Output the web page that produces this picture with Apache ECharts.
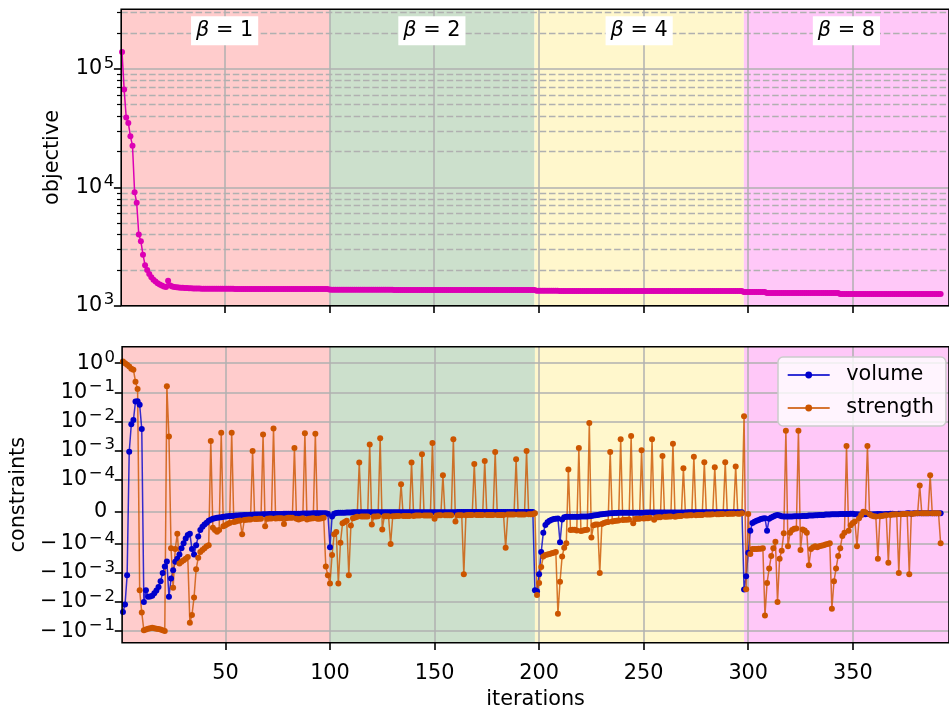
<!DOCTYPE html>
<html>
<head>
<meta charset="utf-8">
<title>objective / constraints</title>
<script src="https://cdn.jsdelivr.net/npm/echarts@6/dist/echarts.min.js"></script>
<style>
  html, body { margin: 0; padding: 0; background: #fff; }
  #chart { width: 949px; height: 713px; }
</style>
</head>
<body>
<div id="chart"></div>
<script>
// values per iteration (iteration = index + 1)
const objective = [
  139000,67000,39000,35000,27000,22500,9100,7400,4000,3500,
  2700,2200,2000,1850,1740,1660,1600,1550,1510,1480,
  1455,1440,1625,1480,1455,1440,1430,1425,1420,1415,
  1410,1408,1405,1402,1400,1398,1396,1395,1394,1393,
  1392,1392,1391,1391,1390,1390,1390,1389,1389,1389,
  1388,1388,1388,1388,1387,1387,1387,1387,1386,1386,
  1386,1386,1386,1385,1385,1385,1385,1385,1385,1384,
  1384,1384,1384,1384,1384,1384,1384,1384,1384,1384,
  1384,1384,1383,1383,1383,1383,1383,1383,1383,1383,
  1383,1383,1382,1382,1382,1382,1382,1382,1382,1370,
  1362,1362,1362,1362,1362,1362,1362,1362,1362,1362,
  1362,1362,1362,1362,1362,1362,1362,1362,1362,1362,
  1361,1361,1361,1361,1361,1361,1361,1361,1361,1361,
  1360,1360,1360,1360,1360,1360,1360,1360,1360,1360,
  1360,1360,1360,1360,1360,1360,1360,1360,1360,1360,
  1359,1359,1359,1359,1359,1359,1359,1359,1359,1359,
  1359,1359,1359,1359,1359,1359,1359,1359,1359,1359,
  1358,1358,1358,1358,1358,1358,1358,1358,1358,1358,
  1358,1358,1358,1358,1358,1358,1358,1358,1358,1358,
  1357,1357,1357,1357,1357,1357,1357,1357,1338,1338,
  1338,1338,1338,1338,1338,1338,1338,1338,1338,1332,
  1331,1331,1331,1331,1331,1331,1331,1331,1331,1331,
  1331,1331,1331,1331,1331,1331,1331,1331,1331,1331,
  1330,1330,1330,1330,1330,1330,1330,1330,1330,1330,
  1330,1330,1330,1330,1330,1330,1330,1330,1330,1330,
  1330,1330,1330,1330,1330,1330,1330,1330,1330,1330,
  1329,1329,1329,1329,1329,1329,1329,1329,1329,1329,
  1329,1329,1329,1329,1329,1329,1329,1329,1329,1329,
  1329,1329,1329,1329,1329,1329,1329,1329,1329,1329,
  1328,1328,1328,1328,1328,1328,1328,1306,1305,1305,
  1305,1305,1305,1305,1305,1305,1305,1305,1282,1281,
  1281,1281,1281,1281,1281,1281,1281,1281,1281,1281,
  1280,1280,1280,1280,1280,1280,1280,1280,1280,1280,
  1280,1280,1280,1280,1280,1280,1280,1280,1280,1280,
  1279,1279,1279,1258,1258,1258,1258,1258,1258,1258,
  1258,1258,1258,1258,1258,1258,1258,1258,1258,1258,
  1257,1257,1257,1257,1257,1257,1257,1257,1257,1257,
  1257,1257,1257,1257,1257,1257,1257,1257,1257,1257,
  1256,1256,1256,1256,1256,1256,1256,1256,1256,1256,
  1256,1256
];

const volume = [
  -2.2e-2,-1.2e-2,-1.2e-3,9e-4,7.9e-3,1.1e-2,4.8e-2,4.9e-2,3.7e-2,5.4e-3,
  -1.0e-2,-3.9e-3,-6.6e-3,-6.4e-3,-6e-3,-5e-3,-4e-3,-3e-3,-1.9e-3,-1e-3,
  -6e-4,-4e-4,-6.6e-3,-1.55e-3,-8.1e-4,-4.1e-4,-3.2e-4,-2.3e-4,-1.4e-4,-9.8e-5,
  -8.3e-5,-7.2e-5,-6.8e-5,-1.5e-4,-2.3e-4,-1.1e-4,-7.7e-5,-5.7e-5,-4.7e-5,-4e-5,
  -3.4e-5,-2.8e-5,-2.5e-5,-2.2e-5,-2e-5,-1.9e-5,-1.8e-5,-1.7e-5,-1.6e-5,-1.5e-5,
  -1.4e-5,-1.35e-5,-1.3e-5,-1.25e-5,-1.2e-5,-1.15e-5,-1.1e-5,-1.1e-5,-1.05e-5,-1e-5,
  -1e-5,-9.5e-6,-9.5e-6,-9e-6,-9e-6,-8.5e-6,-8.5e-6,-8e-6,-8e-6,-8e-6,
  -7.5e-6,-7.5e-6,-7.5e-6,-7e-6,-7e-6,-7e-6,-7e-6,-6.5e-6,-6.5e-6,-6.5e-6,
  -6.5e-6,-6e-6,-6e-6,-6e-6,-6e-6,-6e-6,-5.5e-6,-5.5e-6,-5.5e-6,-5.5e-6,
  -5.5e-6,-5e-6,-5e-6,-5e-6,-5e-6,-5e-6,-5e-6,-5e-6,-6e-6,-1.3e-4,
  -1.5e-5,-6e-6,-4e-6,-3.5e-6,-3e-6,-3e-6,-3e-6,-2.5e-6,-2.5e-6,-2.5e-6,
  -2e-6,-2e-6,-2e-6,-2e-6,-2e-6,-2e-6,-2e-6,-2e-6,-2e-6,-2e-6,
  -2e-6,-2e-6,-2e-6,-2e-6,-2e-6,-2e-6,-2e-6,-2e-6,-2e-6,-2e-6,
  -1.5e-6,-1.5e-6,-1.5e-6,-1.5e-6,-1.5e-6,-1.5e-6,-1.5e-6,-1.5e-6,-1.5e-6,-1.5e-6,
  -1.5e-6,-1.5e-6,-1.5e-6,-1.5e-6,-1.5e-6,-1.5e-6,-1.5e-6,-1.5e-6,-1.5e-6,-1.5e-6,
  -1.5e-6,-1.5e-6,-1.5e-6,-1.5e-6,-1.5e-6,-1.5e-6,-1.5e-6,-1.5e-6,-1.5e-6,-1.5e-6,
  -1e-6,-1e-6,-1e-6,-1e-6,-1e-6,-1e-6,-1e-6,-1e-6,-1e-6,-1e-6,
  -1e-6,-1e-6,-1e-6,-1e-6,-1e-6,-1e-6,-1e-6,-1e-6,-1e-6,-1e-6,
  -1e-6,-1e-6,-1e-6,-1e-6,-1e-6,-1e-6,-1e-6,-1e-6,-1e-6,-1e-6,
  -1e-6,-1e-6,-1e-6,-1e-6,-1e-6,-1e-6,-1e-6,-3.9e-3,-4.2e-3,-1.1e-3,
  -1.9e-4,-6.5e-5,-4.1e-5,-3.3e-5,-2.8e-5,-2.5e-5,-2.3e-5,-2.2e-5,-2.1e-5,-9.5e-5,
  -2.4e-5,-1.7e-5,-1.6e-5,-1.6e-5,-1.6e-5,-1.6e-5,-1.6e-5,-1.6e-5,-1.6e-5,-1.5e-5,
  -1.5e-5,-1.5e-5,-1.5e-5,-1.4e-5,-1.3e-5,-1.2e-5,-1.1e-5,-1e-5,-9e-6,-8e-6,
  -7e-6,-6e-6,-5.5e-6,-5e-6,-4.5e-6,-4e-6,-4e-6,-3.5e-6,-3.5e-6,-3e-6,
  -3e-6,-3e-6,-3e-6,-3e-6,-3e-6,-3e-6,-3e-6,-3e-6,-3e-6,-3e-6,
  -2.5e-6,-2.5e-6,-2.5e-6,-2.5e-6,-2.5e-6,-2.5e-6,-2.5e-6,-2.5e-6,-2.5e-6,-2.5e-6,
  -2.5e-6,-2.5e-6,-2.5e-6,-2.5e-6,-2.5e-6,-2.5e-6,-2.5e-6,-2.5e-6,-2.5e-6,-2.5e-6,
  -2e-6,-2e-6,-2e-6,-2e-6,-2e-6,-2e-6,-2e-6,-2e-6,-2e-6,-2e-6,
  -2e-6,-2e-6,-2e-6,-2e-6,-2e-6,-2e-6,-2e-6,-2e-6,-2e-6,-2e-6,
  -2e-6,-2e-6,-2e-6,-2e-6,-2e-6,-2e-6,-2e-6,-3.7e-3,-1.3e-3,-2e-4,
  -5.9e-5,-3.5e-5,-3.1e-5,-2.8e-5,-2.6e-5,-2.3e-5,-2.1e-5,-2e-5,-5.9e-5,-2.2e-5,
  -1.8e-5,-1.5e-5,-1.2e-5,-1e-5,-1.2e-5,-1.4e-5,-1.5e-5,-1.5e-5,-1.5e-5,-1.5e-5,
  -1.5e-5,-1.4e-5,-1.4e-5,-1.4e-5,-1.4e-5,-1.3e-5,-1.3e-5,-1.3e-5,-1.2e-5,-1.2e-5,
  -1.2e-5,-1.1e-5,-1.1e-5,-1e-5,-1e-5,-1e-5,-9e-6,-9e-6,-9e-6,-8e-6,
  -8e-6,-8e-6,-8e-6,-7e-6,-7e-6,-7e-6,-7e-6,-7e-6,-6e-6,-6e-6,
  -8e-6,-8e-6,-9e-6,-9e-6,-8e-6,-8e-6,-7e-6,-8e-6,-9e-6,-8e-6,
  -8e-6,-7e-6,-7e-6,-8e-6,-8e-6,-7e-6,-7e-6,-6e-6,-6e-6,-7e-6,
  -7e-6,-6e-6,-6e-6,-6e-6,-6e-6,-5e-6,-5e-6,-6e-6,-5e-6,-5e-6,
  -5e-6,-5e-6,-5e-6,-5e-6,-5e-6,-5e-6,-5e-6,-5e-6,-5e-6,-5e-6,
  -5e-6,-5e-6
];

const strength = [
  1.15,1.0,0.89,0.77,0.65,0.6,0.23,0.13,-3.9e-3,-2.3e-2,
  -0.093,-0.087,-0.083,-0.08,-0.077,-0.08,-0.083,-0.085,-0.088,-0.093,
  -0.098,0.16,3.0e-3,-1.4e-4,-3.2e-3,-1.5e-4,-6.8e-5,-4.7e-4,-4.1e-4,-3.6e-4,
  -3.2e-4,-2.8e-4,-5.1e-2,-2.8e-2,-6.9e-3,-7.4e-4,-3.0e-4,-1.9e-4,-1.6e-4,-1.4e-4,
  -1.2e-4,-1.1e-4,2.1e-3,-5e-5,-5.7e-5,-6.2e-5,-5.7e-5,4.0e-3,-4.5e-5,-4.2e-5,
  -3.8e-5,-3.5e-5,4.0e-3,-3.2e-5,-3e-5,-2.8e-5,-2.7e-5,-7e-5,-2.6e-5,-2.5e-5,
  -2.4e-5,-2.4e-5,9.5e-4,-2.3e-5,-2.3e-5,-2.2e-5,-2.2e-5,3.5e-3,-4.5e-5,-2.2e-5,
  -2.1e-5,-2.1e-5,5.7e-3,-2.1e-5,-2e-5,-2e-5,-2e-5,-3.8e-5,-2e-5,-1.9e-5,
  -1.9e-5,-1.9e-5,1.2e-3,-2.2e-5,-2.4e-5,-2.2e-5,-2e-5,3.9e-3,-2.4e-5,-2.2e-5,
  -2.1e-5,-2e-5,3.7e-3,-2.2e-5,-2.2e-5,-2e-5,-1.9e-5,-6e-4,-1.2e-3,-2.3e-3,
  -2.4e-4,-7e-5,-6.3e-5,-2.3e-3,-9.6e-5,-3.6e-5,-3.2e-5,-2.8e-5,-1.2e-3,-4.3e-5,
  -2e-5,-1.8e-5,-1.6e-5,3.8e-4,-1.5e-5,-1.5e-5,-1.5e-5,-1.5e-5,1.6e-3,-4e-5,
  -1.5e-5,-1.5e-5,-1.4e-5,2.6e-3,-5.5e-5,-1.4e-5,-1.4e-5,-1.4e-5,-1.0e-4,-1.4e-5,
  -1.4e-5,-1.3e-5,-1.3e-5,8.5e-5,-1.3e-5,-1.3e-5,-1.3e-5,-1.3e-5,3.8e-4,-1.3e-5,
  -1.2e-5,-1.2e-5,-1.2e-5,7.4e-4,-1.2e-5,-1.2e-5,-1.2e-5,-1.2e-5,1.8e-3,-2.2e-5,
  -1.2e-5,-1.1e-5,-1.1e-5,1.4e-4,-1.1e-5,-1.1e-5,-1.1e-5,-1.1e-5,2.4e-3,-3e-5,
  -1.1e-5,-1.1e-5,-1.1e-5,-1.1e-3,-1.1e-5,-1e-5,-1e-5,-1e-5,3.4e-4,-1e-5,
  -1e-5,-1e-5,-1e-5,4.3e-4,-1e-5,-1e-5,-1e-5,-1e-5,8.7e-4,-1e-5,
  -1e-5,-1e-5,-1e-5,-1.35e-4,-9e-6,-9e-6,-9e-6,-9e-6,4.9e-4,-9e-6,
  -9e-6,-9e-6,-9e-6,9.5e-4,-8e-6,-8e-6,-8e-6,-5e-6,-5.7e-3,-2.2e-3,
  -6.2e-4,-2.7e-4,-2.4e-4,-2.3e-4,-2.2e-4,-2.1e-4,-2e-4,-1.9e-4,-2.5e-2,-2e-3,
  -2.7e-4,-1.35e-4,-9.8e-5,2.2e-4,-5.7e-5,-5.6e-5,-5.6e-5,-5.8e-5,1.2e-3,-6e-5,
  -5.8e-5,-5.7e-5,-5.6e-5,8.7e-3,-8e-5,-4.2e-5,-4e-5,-4e-5,-1e-3,-3.8e-5,
  -3.5e-5,-3.3e-5,-3.2e-5,8.7e-4,-3e-5,-2.9e-5,-2.8e-5,-2.7e-5,2.4e-3,-2.6e-5,
  -2.5e-5,-2.5e-5,-2.4e-5,3.1e-3,-3.6e-5,-2.3e-5,-2.2e-5,-2.2e-5,1.0e-3,-2.1e-5,
  -2e-5,-2e-5,-1.9e-5,2.4e-3,-2.5e-5,-1.8e-5,-1.7e-5,-1.7e-5,6.4e-4,-1.6e-5,
  -1.6e-5,-1.5e-5,-1.5e-5,1.7e-3,-1.6e-5,-1.4e-5,-1.3e-5,-1.3e-5,2.4e-4,-1.2e-5,
  -1.2e-5,-1.1e-5,-1.1e-5,6e-4,-1.1e-5,-1e-5,-1e-5,-1e-5,3.9e-4,-9e-6,
  -9e-6,-9e-6,-8e-6,2.6e-4,-8e-6,-8e-6,-7e-6,-7e-6,3.9e-4,-7e-6,
  -6e-6,-6e-6,-6e-6,2.8e-4,-6e-6,-6e-6,-5e-6,1.5e-2,-3.6e-3,-7e-6,
  -2.2e-4,-1.5e-4,-1.5e-4,-1.5e-4,-1.45e-4,-1.45e-4,-1.4e-4,-2.9e-2,-2.2e-3,-7e-4,
  -2.6e-4,-1.4e-4,-9.3e-5,-1e-2,-3.2e-4,-1.7e-4,-6.7e-5,4.7e-3,-1.2e-4,-6.5e-5,
  -5.7e-5,-5.3e-5,-5.2e-5,4.7e-3,-1.6e-4,-5.5e-5,-5.8e-5,-6.5e-5,-5.4e-4,-1.5e-4,
  -1.3e-4,-1.2e-4,-1.3e-4,-1.2e-4,-1.15e-4,-1.1e-4,-1.05e-4,-1.0e-4,-9.8e-5,-1.7e-2,
  -1.9e-3,-7e-4,-2.6e-4,-1.4e-4,-7.5e-5,-6.5e-5,1.4e-3,-5.9e-5,-4.2e-5,-3.5e-5,
  -3e-5,-1.2e-4,-2e-5,-1e-5,0,-2e-6,1.4e-3,-8e-6,-1.2e-5,-1.4e-5,
  -1.5e-5,-3.2e-4,-1.4e-5,-1.3e-5,-1.2e-5,-1.1e-5,-4.4e-4,-1e-5,-9e-6,-9e-6,
  -8e-6,-1e-3,-8e-6,-7e-6,-7e-6,-6e-6,-1.1e-3,-6e-6,-6e-6,-5e-6,
  -5e-6,8.1e-5,-5e-6,-5e-6,-5e-6,-5e-6,1.4e-4,-5e-6,-5e-6,-5e-6,
  -5e-6,-9.8e-5
];

// continuation steps: span edges (iterations), beta values and tints
const betaLabels = ['1', '2', '4', '8'];
const spanEdges = [0, 100, 198, 298, 396];
const spanColors = ['#ffcccc', '#cce0cc', '#fff7cc', '#ffc8f8'];

// ticks
const xTicks = [50, 100, 150, 200, 250, 300, 350];
const objTicks = [1e3, 1e4, 1e5];
const objMinorTicks = [2e3, 3e3, 4e3, 5e3, 6e3, 7e3, 8e3, 9e3,
  2e4, 3e4, 4e4, 5e4, 6e4, 7e4, 8e4, 9e4, 2e5, 3e5];
const conTicks = [1, 1e-1, 1e-2, 1e-3, 1e-4, 0, -1e-4, -1e-3, -1e-2, -1e-1];

const X_MIN = 0.6, X_MAX = 396;
const OBJ_MIN = 1e3, OBJ_MAX = 3.196e5;
const CON_MIN = -0.25, CON_MAX = 3.7;

// matplotlib style symlog, linthresh 1e-4, linscale 1
const LIN_THRESH = 1e-4;
const LIN_SCALE = 1 / (1 - 1 / 10);
function symlog(v) {
  const a = Math.abs(v);
  if (a <= LIN_THRESH) return v / LIN_THRESH * LIN_SCALE;
  return Math.sign(v) * (LIN_SCALE + Math.log10(a / LIN_THRESH));
}

const FONT = 'DejaVu Sans';
const GRID_COLOR = '#b0b0b0';
const AXIS_Z = 1.5; // above the tinted spans, below the data
const MINUS = '\u2212';

// "10^e" style tick text, mathtext-like spacing
function powLabel(v) {
  if (Math.abs(v) < 1e-12) return '{z|0}';
  const e = Math.round(Math.log10(Math.abs(v)));
  const lead = v < 0 ? '{m|' + MINUS + '}' : '';
  const exp = e < 0 ? '{sm|' + MINUS + '}{sd|' + (-e) + '}' : '{sup|' + e + '}';
  return lead + '10' + exp;
}

const supBase = { fontSize: 16.5, fontFamily: FONT, color: '#000', verticalAlign: 'top', lineHeight: 16.5 };
const tickLabel = {
  fontSize: 20.8,
  fontFamily: FONT,
  color: '#000',
  lineHeight: 28,
  rich: {
    m: { fontSize: 20.8, fontFamily: FONT, color: '#000', padding: [0, 3.5, 0, 0] },
    sup: Object.assign({ padding: [0, 0, 0, 1.5] }, supBase),
    sm: Object.assign({ padding: [0, 2, 0, 1.5] }, supBase),
    sd: Object.assign({}, supBase),
    z: { fontSize: 20.8, fontFamily: FONT, color: '#000', padding: [0, 8, 0, 0] }
  }
};
const tickStyle = { lineStyle: { color: '#000', width: 1.6 } };
const gridLine = { show: true, lineStyle: { color: GRID_COLOR, width: 1.5 } };

const spanAreas = betaLabels.map((b, k) => [
  { xAxis: Math.max(spanEdges[k], X_MIN), itemStyle: { color: spanColors[k] } },
  { xAxis: spanEdges[k + 1] }
]);
const spanMids = betaLabels.map((b, k) => (spanEdges[k] + spanEdges[k + 1]) / 2);

const withIter = (arr, fn) => arr.map((v, k) => [k + 1, fn ? fn(v) : v]);

const chart = echarts.init(document.getElementById('chart'));

const xBase = {
  type: 'value',
  min: X_MIN,
  max: X_MAX,
  z: AXIS_Z,
  axisLine: { show: false, onZero: false },
  axisTick: Object.assign({ show: true, length: 7.3, customValues: xTicks }, tickStyle),
  splitLine: gridLine
};

const option = {
  animation: false,
  backgroundColor: '#fff',
  grid: [
    { left: 121.2, top: 9.3, width: 837, height: 296.4, show: true, z: 3,
      borderColor: '#000', borderWidth: 1.6, backgroundColor: 'rgba(0,0,0,0)' },
    { left: 121.2, top: 346.7, width: 837, height: 296, show: true, z: 3,
      borderColor: '#000', borderWidth: 1.6, backgroundColor: 'rgba(0,0,0,0)' }
  ],
  xAxis: [
    Object.assign({}, xBase, { gridIndex: 0, axisLabel: { show: false } }),
    Object.assign({}, xBase, {
      gridIndex: 1,
      name: 'iterations',
      nameLocation: 'middle',
      nameGap: 46,
      nameTextStyle: { fontSize: 20.8, fontFamily: FONT, color: '#000' },
      axisLabel: { customValues: xTicks, fontSize: 20.8, fontFamily: FONT, color: '#000', margin: 20 }
    }),
    {
      // beta annotations, centred on each span, drawn as inside labels of a top axis
      type: 'value', gridIndex: 0, position: 'top', min: X_MIN, max: X_MAX, z: 4,
      axisLine: { show: false, onZero: false },
      axisTick: { show: false },
      splitLine: { show: false },
      axisLabel: {
        inside: true,
        margin: 7,
        customValues: spanMids,
        formatter: v => {
          let k = 0;
          spanMids.forEach((m, j) => { if (Math.abs(m - v) < Math.abs(spanMids[k] - v)) k = j; });
          return '{i|\u03b2} = ' + betaLabels[k];
        },
        fontSize: 20.8,
        fontFamily: FONT,
        color: '#000',
        backgroundColor: '#fff',
        padding: [4, 5, 4, 5],
        rich: { i: { fontSize: 20.8, fontFamily: FONT, fontStyle: 'italic', color: '#000' } }
      }
    }
  ],
  yAxis: [
    {
      type: 'log', logBase: 10, gridIndex: 0, min: OBJ_MIN, max: OBJ_MAX, z: AXIS_Z,
      name: 'objective', nameLocation: 'middle', nameGap: 58,
      nameTextStyle: { fontSize: 20.8, fontFamily: FONT, color: '#000' },
      axisLine: { show: false, onZero: false },
      axisTick: Object.assign({ show: true, length: 7.3, customValues: objTicks }, tickStyle),
      axisLabel: Object.assign({ customValues: objTicks, margin: 7, formatter: v => powLabel(v) }, tickLabel),
      splitLine: gridLine
    },
    {
      type: 'log', logBase: 10, gridIndex: 0, min: OBJ_MIN, max: OBJ_MAX, z: AXIS_Z,
      position: 'left',
      axisLine: { show: false, onZero: false },
      axisTick: { show: true, length: 4.2, customValues: objMinorTicks, lineStyle: { color: '#000', width: 1.2 } },
      axisLabel: { show: false },
      splitLine: { show: true, lineStyle: { color: GRID_COLOR, width: 1.4, type: [6.5, 2.8] } }
    },
    {
      type: 'value', gridIndex: 1, min: symlog(CON_MIN), max: symlog(CON_MAX), z: AXIS_Z,
      name: 'constraints', nameLocation: 'middle', nameGap: 88,
      nameTextStyle: { fontSize: 20.8, fontFamily: FONT, color: '#000' },
      axisLine: { show: false, onZero: false },
      axisTick: Object.assign({ show: true, length: 7.3, customValues: conTicks.map(symlog) }, tickStyle),
      axisLabel: Object.assign({
        customValues: conTicks.map(symlog),
        margin: 7,
        formatter: s => {
          let best = conTicks[0];
          conTicks.forEach(t => { if (Math.abs(symlog(t) - s) < Math.abs(symlog(best) - s)) best = t; });
          return powLabel(best);
        }
      }, tickLabel),
      splitLine: gridLine
    }
  ],
  legend: {
    data: ['volume', 'strength'],
    orient: 'vertical',
    left: 778,
    top: 357,
    z: 10,
    itemWidth: 42,
    itemHeight: 8.5,
    itemGap: 12,
    padding: [7.5, 12, 7.5, 8.7],
    backgroundColor: 'rgba(255,255,255,0.8)',
    borderColor: '#cccccc',
    borderWidth: 1.5,
    borderRadius: 5,
    textStyle: { fontSize: 20.8, fontFamily: FONT, color: '#000', lineHeight: 21, padding: [0, 0, 0, 11.6] }
  },
  series: [
    {
      name: 'spans-top', type: 'line', xAxisIndex: 0, yAxisIndex: 0, data: [], z: 0, silent: true,
      markArea: { silent: true, z: 0, label: { show: false }, data: spanAreas }
    },
    {
      name: 'spans-bottom', type: 'line', xAxisIndex: 1, yAxisIndex: 2, data: [], z: 0, silent: true,
      markArea: { silent: true, z: 0, label: { show: false }, data: spanAreas }
    },
    {
      name: 'objective', type: 'line', xAxisIndex: 0, yAxisIndex: 0, z: 2,
      data: withIter(objective),
      symbol: 'circle', symbolSize: 6, showAllSymbol: true,
      itemStyle: { color: '#dc00b4' },
      lineStyle: { color: '#dc00b4', width: 1.5 }
    },
    {
      name: 'volume', type: 'line', xAxisIndex: 1, yAxisIndex: 2, z: 2,
      data: withIter(volume, symlog),
      symbol: 'circle', symbolSize: 6, showAllSymbol: true,
      itemStyle: { color: '#0000cc' },
      lineStyle: { color: '#0000cc', width: 1.5, opacity: 0.8 }
    },
    {
      name: 'strength', type: 'line', xAxisIndex: 1, yAxisIndex: 2, z: 2,
      data: withIter(strength, symlog),
      symbol: 'circle', symbolSize: 6, showAllSymbol: true,
      itemStyle: { color: '#cc5500' },
      lineStyle: { color: '#cc5500', width: 1.5, opacity: 0.8 }
    }
  ]
};

chart.setOption(option);
</script>
</body>
</html>
